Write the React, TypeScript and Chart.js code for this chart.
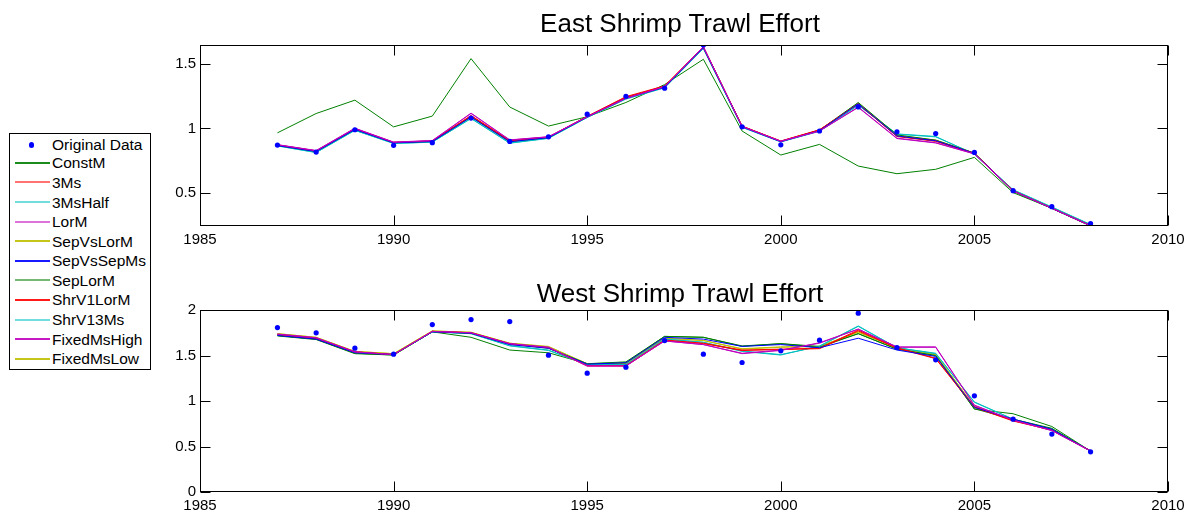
import { useEffect, useRef } from "react";
import { Chart, registerables } from "chart.js";

Chart.register(...registerables);

const FONT = "'Liberation Sans', Arial, Helvetica, sans-serif";

// Survey years shared by both panels
const years = [
  1987, 1988, 1989, 1990, 1991, 1992, 1993, 1994, 1995, 1996, 1997,
  1998, 1999, 2000, 2001, 2002, 2003, 2004, 2005, 2006, 2007, 2008,
];

const xTickValues = [1985, 1990, 1995, 2000, 2005, 2010];
const eastYTicks = [0.5, 1, 1.5];
const westYTicks = [0, 0.5, 1, 1.5, 2];
const eastYRange = [0.248, 1.643];
const westYRange = [0, 2];

const modelNames = [
  "ConstM", "3Ms", "3MsHalf", "LorM", "SepVsLorM", "SepVsSepMs",
  "SepLorM", "ShrV1LorM", "ShrV13Ms", "FixedMsHigh", "FixedMsLow",
];
const modelColors = [
  "#008000", "#ff0000", "#00bfbf", "#bf00bf", "#bfbf00", "#0000ff",
  "#008000", "#ff0000", "#00bfbf", "#bf00bf", "#bfbf00",
];
// Stacking of the model lines (higher value = drawn later, on top)
const modelLayer = [0, 6, 3, 9, 1, 8, 5, 7, 4, 10, 2];

// East shrimp trawl effort
const eastObserved = [0.872, 0.818, 0.99, 0.87, 0.89, 1.08, 0.9, 0.935, 1.11, 1.248, 1.31, 1.643, 1.012, 0.874, 0.98, 1.166, 0.974, 0.96, 0.815, 0.52, 0.397, 0.266];
const eastConstM = [0.966, 1.115, 1.218, 1.012, 1.095, 1.538, 1.165, 1.018, 1.09, 1.2, 1.338, 1.533, 0.98, 0.795, 0.877, 0.71, 0.651, 0.685, 0.777, 0.505, 0.385, 0.25];
const east3Ms = [0.872, 0.826, 0.996, 0.892, 0.903, 1.095, 0.905, 0.932, 1.092, 1.24, 1.325, 1.625, 1.017, 0.902, 0.988, 1.19, 0.94, 0.905, 0.808, 0.52, 0.386, 0.252];
const east3MsHalf = [0.866, 0.815, 0.986, 0.885, 0.895, 1.078, 0.888, 0.925, 1.085, 1.228, 1.315, 1.618, 1.01, 0.897, 0.98, 1.18, 0.955, 0.935, 0.805, 0.525, 0.392, 0.258];
const eastLorM = [0.874, 0.828, 1.0, 0.893, 0.905, 1.115, 0.91, 0.935, 1.09, 1.232, 1.322, 1.628, 1.015, 0.9, 0.98, 1.165, 0.925, 0.89, 0.805, 0.518, 0.385, 0.25];
const eastSepVsLorM = [0.87, 0.823, 0.993, 0.89, 0.9, 1.09, 0.898, 0.93, 1.09, 1.235, 1.32, 1.625, 1.015, 0.9, 0.985, 1.195, 0.945, 0.91, 0.81, 0.52, 0.385, 0.25];
const eastSepVsSepMs = [0.868, 0.822, 0.992, 0.889, 0.899, 1.088, 0.897, 0.929, 1.088, 1.233, 1.318, 1.622, 1.012, 0.898, 0.983, 1.19, 0.942, 0.905, 0.808, 0.518, 0.384, 0.25];
const eastSepLorM = [0.869, 0.823, 0.994, 0.89, 0.9, 1.09, 0.9, 0.93, 1.09, 1.234, 1.32, 1.625, 1.016, 0.9, 0.987, 1.2, 0.95, 0.91, 0.81, 0.515, 0.383, 0.248];
const eastShrV1LorM = [0.873, 0.827, 0.998, 0.893, 0.904, 1.1, 0.907, 0.933, 1.093, 1.245, 1.328, 1.63, 1.018, 0.903, 0.99, 1.188, 0.938, 0.9, 0.807, 0.52, 0.385, 0.25];
const eastShrV13Ms = [0.865, 0.814, 0.985, 0.884, 0.894, 1.076, 0.886, 0.923, 1.084, 1.226, 1.313, 1.615, 1.008, 0.896, 0.978, 1.178, 0.958, 0.938, 0.8, 0.528, 0.395, 0.26];
const eastFixedMsHigh = [0.875, 0.83, 1.002, 0.895, 0.907, 1.118, 0.912, 0.936, 1.09, 1.232, 1.322, 1.63, 1.015, 0.902, 0.98, 1.162, 0.922, 0.888, 0.803, 0.518, 0.385, 0.25];
const eastFixedMsLow = [0.87, 0.824, 0.994, 0.89, 0.9, 1.09, 0.9, 0.93, 1.09, 1.235, 1.32, 1.625, 1.015, 0.9, 0.985, 1.193, 0.943, 0.908, 0.81, 0.52, 0.385, 0.25];

// West shrimp trawl effort
const westObserved = [1.807, 1.749, 1.58, 1.515, 1.84, 1.895, 1.873, 1.504, 1.306, 1.372, 1.664, 1.515, 1.423, 1.551, 1.668, 1.965, 1.588, 1.452, 1.057, 0.8, 0.637, 0.442];
const westConstM = [1.72, 1.68, 1.525, 1.505, 1.76, 1.7, 1.56, 1.53, 1.41, 1.43, 1.71, 1.7, 1.6, 1.63, 1.6, 1.74, 1.57, 1.5, 0.91, 0.86, 0.72, 0.45];
const west3Ms = [1.73, 1.69, 1.54, 1.51, 1.765, 1.75, 1.63, 1.585, 1.39, 1.39, 1.67, 1.635, 1.56, 1.57, 1.58, 1.78, 1.585, 1.47, 0.935, 0.785, 0.68, 0.452];
const west3MsHalf = [1.73, 1.69, 1.535, 1.51, 1.76, 1.74, 1.61, 1.56, 1.4, 1.4, 1.68, 1.645, 1.55, 1.51, 1.6, 1.82, 1.585, 1.52, 0.985, 0.8, 0.69, 0.452];
const westLorM = [1.735, 1.695, 1.54, 1.51, 1.765, 1.75, 1.63, 1.59, 1.385, 1.385, 1.66, 1.62, 1.525, 1.56, 1.635, 1.79, 1.59, 1.59, 0.95, 0.79, 0.675, 0.45];
const westSepVsLorM = [1.74, 1.7, 1.545, 1.52, 1.77, 1.755, 1.635, 1.595, 1.41, 1.41, 1.69, 1.665, 1.57, 1.59, 1.6, 1.76, 1.585, 1.51, 0.94, 0.79, 0.685, 0.45];
const westSepVsSepMs = [1.72, 1.68, 1.53, 1.51, 1.76, 1.745, 1.62, 1.58, 1.405, 1.42, 1.7, 1.68, 1.6, 1.62, 1.585, 1.69, 1.56, 1.49, 0.93, 0.8, 0.69, 0.45];
const westSepLorM = [1.715, 1.675, 1.52, 1.505, 1.76, 1.745, 1.625, 1.58, 1.41, 1.42, 1.71, 1.7, 1.605, 1.63, 1.59, 1.74, 1.57, 1.5, 0.915, 0.8, 0.7, 0.45];
const westShrV1LorM = [1.73, 1.69, 1.54, 1.51, 1.765, 1.75, 1.625, 1.585, 1.385, 1.385, 1.665, 1.63, 1.555, 1.565, 1.575, 1.77, 1.58, 1.465, 0.93, 0.78, 0.68, 0.452];
const westShrV13Ms = [1.73, 1.69, 1.535, 1.51, 1.76, 1.74, 1.605, 1.555, 1.4, 1.4, 1.68, 1.645, 1.545, 1.505, 1.605, 1.825, 1.585, 1.525, 0.99, 0.8, 0.69, 0.452];
const westFixedMsHigh = [1.735, 1.695, 1.54, 1.51, 1.765, 1.75, 1.63, 1.59, 1.385, 1.385, 1.66, 1.62, 1.52, 1.555, 1.64, 1.79, 1.595, 1.595, 0.955, 0.79, 0.675, 0.45];
const westFixedMsLow = [1.74, 1.7, 1.545, 1.52, 1.77, 1.755, 1.635, 1.6, 1.41, 1.415, 1.69, 1.665, 1.575, 1.595, 1.6, 1.755, 1.585, 1.51, 0.94, 0.79, 0.685, 0.45];

const eastModels = [eastConstM, east3Ms, east3MsHalf, eastLorM, eastSepVsLorM, eastSepVsSepMs, eastSepLorM, eastShrV1LorM, eastShrV13Ms, eastFixedMsHigh, eastFixedMsLow];
const westModels = [westConstM, west3Ms, west3MsHalf, westLorM, westSepVsLorM, westSepVsSepMs, westSepLorM, westShrV1LorM, westShrV13Ms, westFixedMsHigh, westFixedMsLow];

// Boxed axes with inward-pointing tick marks on all four sides
const boxedAxes = {
  id: "boxedAxes",
  afterDatasetsDraw(chart: any) {
    const { ctx, chartArea: a, scales } = chart;
    const xs = scales.x;
    const ys = scales.y;
    const L = Math.round(a.left) + 0.5;
    const R = Math.round(a.right) - 0.5;
    const T = Math.round(a.top) + 0.5;
    const B = Math.round(a.bottom) - 0.5;
    const len = 10;
    ctx.save();
    ctx.strokeStyle = "#000";
    ctx.lineWidth = 1;
    ctx.strokeRect(L, T, R - L, B - T);
    ctx.beginPath();
    xs.ticks.forEach((t: any) => {
      const px = Math.round(xs.getPixelForValue(t.value)) + 0.5;
      ctx.moveTo(px, B);
      ctx.lineTo(px, B - len);
      ctx.moveTo(px, T);
      ctx.lineTo(px, T + len);
    });
    ys.ticks.forEach((t: any) => {
      const py = Math.round(ys.getPixelForValue(t.value)) + 0.5;
      ctx.moveTo(L, py);
      ctx.lineTo(L + len, py);
      ctx.moveTo(R, py);
      ctx.lineTo(R - len, py);
    });
    ctx.stroke();
    ctx.restore();
  },
};

type PanelProps = {
  top: number;
  height: number;
  padTop: number;
  axisHeight: number;
  observed: number[];
  models: number[][];
  yRange: number[];
  yTicks: number[];
};

function Panel({ top, height, padTop, axisHeight, observed, models, yRange, yTicks }: PanelProps) {
  const ref = useRef<HTMLCanvasElement>(null);
  useEffect(() => {
    const tickFont = { family: FONT, size: 15 };
    const chart = new Chart(ref.current as HTMLCanvasElement, {
      type: "line",
      data: {
        datasets: [
          {
            label: "Original Data",
            data: years.map((x, i) => ({ x, y: observed[i] })),
            showLine: false,
            pointRadius: 2.6,
            pointBackgroundColor: "#0000ff",
            pointBorderWidth: 0,
            order: -1,
          },
          ...models.map((vals, k) => ({
            label: modelNames[k],
            data: years.map((x, i) => ({ x, y: vals[i] })),
            borderColor: modelColors[k],
            borderWidth: 1,
            pointRadius: 0,
            fill: false,
            tension: 0,
            order: 20 - modelLayer[k],
          })),
        ],
      },
      options: {
        responsive: false,
        animation: false,
        events: [],
        layout: { padding: { left: 150, right: 24, top: padTop, bottom: 0 } },
        plugins: {
          legend: { display: false },
          title: { display: false },
          tooltip: { enabled: false },
        },
        scales: {
          x: {
            type: "linear",
            min: 1985,
            max: 2010,
            grid: { display: false, drawTicks: false },
            border: { display: false },
            afterBuildTicks: (s: any) => {
              s.ticks = xTickValues.map((v) => ({ value: v }));
            },
            afterFit: (s: any) => {
              s.height = axisHeight;
            },
            ticks: {
              color: "#000",
              font: tickFont,
              padding: 5,
              maxRotation: 0,
              autoSkip: false,
              callback: (v: any) => String(v),
            },
          },
          y: {
            type: "linear",
            min: yRange[0],
            max: yRange[1],
            grid: { display: false, drawTicks: false },
            border: { display: false },
            afterBuildTicks: (s: any) => {
              s.ticks = yTicks.map((v) => ({ value: v }));
            },
            afterFit: (s: any) => {
              s.width = 50;
            },
            ticks: {
              color: "#000",
              font: tickFont,
              padding: 4,
              autoSkip: false,
              callback: (v: any) => String(v),
            },
          },
        },
      } as any,
      plugins: [boxedAxes],
    });
    return () => chart.destroy();
  }, []);
  return (
    <canvas
      ref={ref}
      width={1192}
      height={height}
      style={{ position: "absolute", left: 0, top, width: 1192, height }}
    />
  );
}

const titleStyle = (top: number): any => ({
  position: "absolute",
  left: 380,
  width: 600,
  top,
  textAlign: "center",
  fontFamily: FONT,
  fontSize: 26,
  lineHeight: "26px",
  color: "#000",
  whiteSpace: "nowrap",
});

// Rows whose sample line renders softer in the key
const softRows = new Set(["3Ms", "3MsHalf", "LorM", "SepLorM", "ShrV13Ms"]);

function Legend() {
  const rowY = (i: number) => (i === 0 ? 145 : 163.4 + (i - 1) * 19.58);
  const rows = ["Original Data", ...modelNames];
  return (
    <div
      style={{
        position: "absolute",
        left: 9,
        top: 133,
        width: 142,
        height: 237,
        boxSizing: "border-box",
        border: "1px solid #000",
        background: "#fff",
      }}
    >
      {rows.map((name, i) => {
        const cy = rowY(i) - 134;
        const k = i - 1;
        const soft = softRows.has(name);
        return (
          <div key={name}>
            {i === 0 ? (
              <div
                style={{
                  position: "absolute",
                  left: 31.7 - 10 - 2.6,
                  top: cy - 2.6,
                  width: 5.2,
                  height: 5.2,
                  borderRadius: "50%",
                  background: "#0000ff",
                }}
              />
            ) : (
              <div
                style={{
                  position: "absolute",
                  left: 5,
                  top: Math.floor(cy) - 1,
                  width: 35,
                  height: 2,
                  background: modelColors[k],
                  opacity: soft ? 0.55 : 0.9,
                }}
              />
            )}
            <div
              style={{
                position: "absolute",
                left: 42,
                top: cy - 10,
                height: 20,
                lineHeight: "20px",
                fontFamily: FONT,
                fontSize: 15.5,
                color: "#000",
                whiteSpace: "nowrap",
              }}
            >
              {name}
            </div>
          </div>
        );
      })}
    </div>
  );
}

export default function App() {
  return (
    <div
      style={{
        position: "absolute",
        left: 0,
        top: 0,
        width: 1192,
        height: 514,
        background: "#fff",
        overflow: "hidden",
      }}
    >
      <Panel
        top={0}
        height={256}
        padTop={45}
        axisHeight={30}
        observed={eastObserved}
        models={eastModels}
        yRange={eastYRange}
        yTicks={eastYTicks}
      />
      <Panel
        top={256}
        height={258}
        padTop={54}
        axisHeight={22}
        observed={westObserved}
        models={westModels}
        yRange={westYRange}
        yTicks={westYTicks}
      />
      <div style={titleStyle(9.7)}>East Shrimp Trawl Effort</div>
      <div style={titleStyle(279.7)}>West Shrimp Trawl Effort</div>
      <Legend />
    </div>
  );
}
